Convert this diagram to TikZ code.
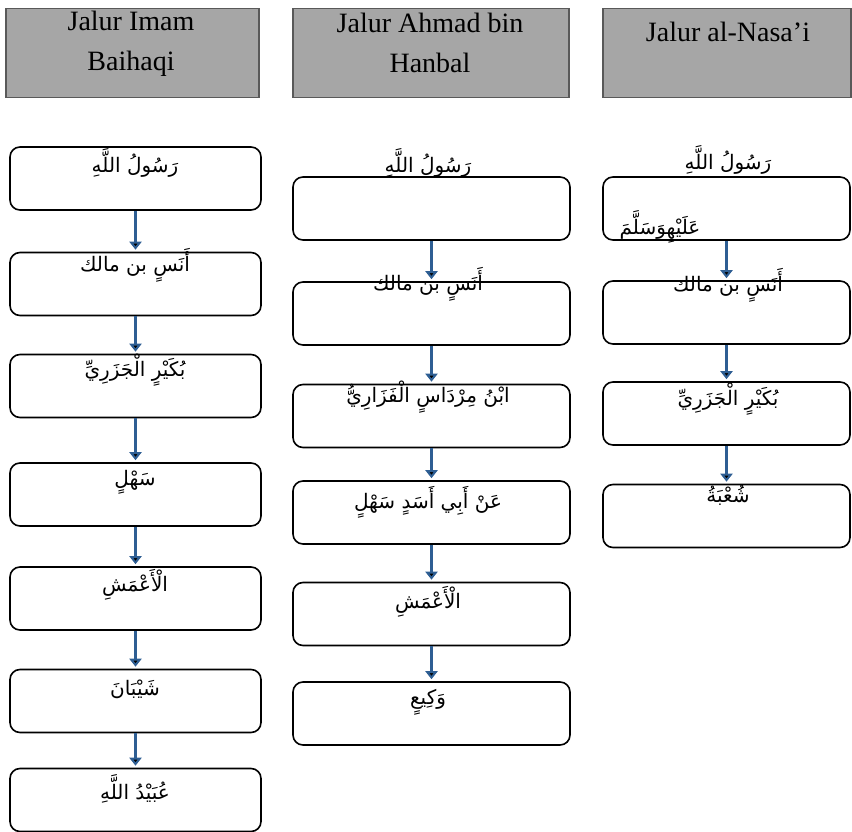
\documentclass[tikz,border=0pt]{standalone}
\usepackage{fontspec}
\setmainfont{Liberation Serif}
\newfontfamily\arabicfont[Script=Arabic]{DejaVu Sans}
\TeXXeTstate=1
\usetikzlibrary{arrows.meta}
\definecolor{hdrgray}{HTML}{A6A6A6}
\definecolor{hdrline}{HTML}{595959}
\definecolor{arrblue}{HTML}{2E5E93}
\newcommand{\artext}[1]{\beginR #1\endR}

\begin{document}
\begin{tikzpicture}
[x=1pt,y=-1pt,
hdr/.style={draw=hdrline,line width=1.6pt,fill=hdrgray,minimum height=89pt,inner sep=0pt},
ttl/.style={font=\fontsize{28}{40}\selectfont,align=center,inner sep=0pt,anchor=north},
chain/.style={draw,rounded corners=10pt,line width=1.6pt,minimum height=63pt,inner sep=0pt},
lbl/.style={font=\fontsize{20}{23}\selectfont\arabicfont,inner sep=0pt},
arr/.style={draw=arrblue,line width=2.6pt,-{Triangle[width=12pt,length=8pt]},shorten >=2pt}]
\useasboundingbox (0,0) rectangle (852,832);

% headers
\node[hdr,minimum width=253pt] (HeadBaihaqi) at (132.5,53) {};
\node[hdr,minimum width=276pt] (HeadAhmad) at (431,53) {};
\node[hdr,minimum width=248pt] (HeadNasai) at (727,53) {};
\node[ttl] (TitleBaihaqi) at (131,11) {Jalur Imam\\Baihaqi};
\node[ttl] (TitleAhmad) at (430,13) {Jalur Ahmad bin\\Hanbal};
\node[ttl] (TitleNasai) at (728,22) {Jalur al-Nasa'i};

% jalur Baihaqi
\node[chain,minimum width=251pt] (BaBox1) at (135.5,178.5) {};
\node[chain,minimum width=251pt] (BaBox2) at (135.5,284) {};
\node[chain,minimum width=251pt] (BaBox3) at (135.5,386) {};
\node[chain,minimum width=251pt] (BaBox4) at (135.5,494.5) {};
\node[chain,minimum width=251pt] (BaBox5) at (135.5,598.5) {};
\node[chain,minimum width=251pt] (BaBox6) at (135.5,701) {};
\node[chain,minimum width=251pt] (BaBox7) at (135.5,800) {};
\node[lbl] (BaRasul) at (135,163) {\artext{رَسُولُ اللَّهِ}};
\node[lbl] (BaAnas) at (135,265) {\artext{أَنَسٍ بن مالك}};
\node[lbl] (BaBukair) at (135,370) {\artext{بُكَيْرٍ الْجَزَرِيِّ}};
\node[lbl] (BaSahl) at (135,482) {\artext{سَهْلٍ}};
\node[lbl] (BaAmasy) at (135,585) {\artext{الْأَعْمَشِ}};
\node[lbl] (BaSyaiban) at (135,689) {\artext{شَيْبَانَ}};
\node[lbl] (BaUbaid) at (135,789) {\artext{عُبَيْدُ اللَّهِ}};

% jalur Ahmad bin Hanbal
\node[chain,minimum width=277pt] (AhBox1) at (431.5,208.5) {};
\node[chain,minimum width=277pt] (AhBox2) at (431.5,313.5) {};
\node[chain,minimum width=277pt] (AhBox3) at (431.5,416) {};
\node[chain,minimum width=277pt] (AhBox4) at (431.5,512.5) {};
\node[chain,minimum width=277pt] (AhBox5) at (431.5,614) {};
\node[chain,minimum width=277pt] (AhBox6) at (431.5,713.5) {};
\node[lbl] (AhRasul) at (428,163) {\artext{رَسُولُ اللَّهِ}};
\node[lbl] (AhAnas) at (428,284) {\artext{أَنَسٍ بن مالك}};
\node[lbl] (AhMirdas) at (428,397) {\artext{ابْنُ مِرْدَاسٍ الْفَزَارِيُّ}};
\node[lbl] (AhSahl) at (428,502) {\artext{عَنْ أَبِي أَسَدٍ سَهْلٍ}};
\node[lbl] (AhAmasy) at (428,602) {\artext{الْأَعْمَشِ}};
\node[lbl] (AhWaki) at (428,702) {\artext{وَكِيعٍ}};

% jalur al-Nasa'i
\node[chain,minimum width=247pt] (NaBox1) at (726.5,208.5) {};
\node[chain,minimum width=247pt] (NaBox2) at (726.5,312.5) {};
\node[chain,minimum width=247pt] (NaBox3) at (726.5,413.5) {};
\node[chain,minimum width=247pt] (NaBox4) at (726.5,516) {};
\node[lbl] (NaRasul) at (728,160) {\artext{رَسُولُ اللَّهِ}};
\node[lbl] (NaSalam) at (660,227) {\artext{عَلَيْهِوَسَلَّمَ}};
\node[lbl] (NaAnas) at (728,285) {\artext{أَنَسٍ بن مالك}};
\node[lbl] (NaBukair) at (728,399) {\artext{بُكَيْرٍ الْجَزَرِيِّ}};
\node[lbl] (NaSyubah) at (728,495) {\artext{شُعْبَةُ}};

\path[arr] (BaBox1) edge (BaBox2)
	(BaBox2) edge (BaBox3)
	(BaBox3) edge (BaBox4)
	(BaBox4) edge (BaBox5)
	(BaBox5) edge (BaBox6)
	(BaBox6) edge (BaBox7);
\path[arr] (AhBox1) edge (AhBox2)
	(AhBox2) edge (AhBox3)
	(AhBox3) edge (AhBox4)
	(AhBox4) edge (AhBox5)
	(AhBox5) edge (AhBox6);
\path[arr] (NaBox1) edge (NaBox2)
	(NaBox2) edge (NaBox3)
	(NaBox3) edge (NaBox4);
\end{tikzpicture}
\end{document}
